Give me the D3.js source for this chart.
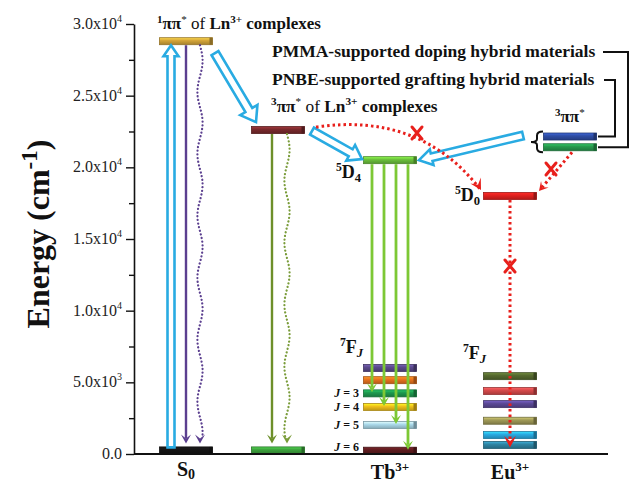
<!DOCTYPE html>
<html><head><meta charset="utf-8">
<script src="https://cdn.jsdelivr.net/npm/d3@7"></script>
<style>
body{margin:0;background:#fff}
svg{display:block}
text{font-family:"Liberation Serif","Times New Roman",serif;fill:#111}
</style>
</head><body>
<svg id="c" width="631" height="482"></svg>
<script>
// ---------------- data ----------------
const yTicks = [0, 5000, 10000, 15000, 20000, 25000, 30000];
const tickMantissa = ["0.0", "5.0", "1.0", "1.5", "2.0", "2.5", "3.0"];
const tickExponent = ["", "3", "4", "4", "4", "4", "4"];
const columns = ["S0", "Ln", "Tb", "Eu", "Film"];
const columnLabels = ["S", "", "Tb", "Eu", ""];
const columnLabelSup = ["", "", "3+", "3+", ""];
const columnLabelSub = ["0", "", "", "", ""];

const mainNames    = ["S0", "S1", "T1", "LnGround", "5D4", "5D0", "FilmT1a", "FilmT1b"];
const mainCols     = ["S0", "S0", "Ln", "Ln", "Tb", "Eu", "Film", "Film"];
const mainEnergies = [250, 28800, 22600, 250, 20500, 18000, 22150, 21400];
const mainColors   = ["#151515", "#d4a53a", "#7a2a2d", "#3da23d", "#6cc13c", "#e2211f", "#2f4ea6", "#27994d"];

const tbEnergies = [6000, 5150, 4230, 3280, 2020, 230];
const tbColors   = ["#5b4a8c", "#e8731f", "#1e9a4f", "#f1c11b", "#abd9ea", "#5e1c1f"];
const tbJLabels  = ["", "", "3", "4", "5", "6"];
const tbEmissionTargets = [4230, 3280, 2020, 230];

const euEnergies = [5430, 4390, 3480, 2320, 1320, 630];
const euColors   = ["#56692f", "#d64a4b", "#5c4a97", "#a09a57", "#29abe2", "#2f85a4"];

// ---------------- setup ----------------
const svg = d3.select("#c");
const defs = svg.append("defs");
const y = d3.scaleLinear().domain([0, 30000]).range([454, 24]);
const x = d3.scaleOrdinal().domain(columns).range([186, 278, 390, 510, 570]);
const barW = 53, barH = 7;
const BLUE = "#29abe2", RED = "#e8201c", TBGREEN = "#7dc835";

let gid = 0;
function grad(color) {
  const id = "g" + (gid++);
  const c = d3.color(color);
  const g = defs.append("linearGradient").attr("id", id).attr("x1", 0).attr("y1", 0).attr("x2", 0).attr("y2", 1);
  g.append("stop").attr("offset", "0%").attr("stop-color", c.brighter(0.8));
  g.append("stop").attr("offset", "40%").attr("stop-color", c);
  g.append("stop").attr("offset", "100%").attr("stop-color", c.darker(0.7));
  return "url(#" + id + ")";
}
const gBars = svg.append("g");
function bar(cx, energy, color) {
  const yc = y(energy);
  gBars.append("rect").attr("x", cx - barW / 2).attr("y", yc - barH / 2)
    .attr("width", barW).attr("height", barH)
    .attr("fill", grad(color)).attr("stroke", d3.color(color).darker(1)).attr("stroke-width", 0.8);
  gBars.append("rect").attr("x", cx + barW / 2 - 3).attr("y", yc - barH / 2)
    .attr("width", 3).attr("height", barH).attr("fill", d3.color(color).darker(1.2));
}

// ---------------- axis ----------------
const axis = d3.axisLeft(y).tickValues(yTicks).tickSize(8).tickSizeOuter(0).tickFormat(() => "");
const gAx = svg.append("g").attr("transform", "translate(134,0)").call(axis);
gAx.select(".domain").attr("stroke", "#111").attr("stroke-width", 1.6);
gAx.selectAll(".tick line").attr("stroke", "#111").attr("stroke-width", 1.4);
const minorTicks = d3.range(2500, 30000, 5000);
svg.append("g").attr("transform", "translate(134,0)")
  .call(d3.axisLeft(y).tickValues(minorTicks).tickSize(5).tickSizeOuter(0).tickFormat(() => ""))
  .call(g => { g.select(".domain").remove(); g.selectAll(".tick line").attr("stroke", "#111").attr("stroke-width", 1.4); });
gAx.selectAll(".tick text").remove();
yTicks.forEach((v, i) => {
  const t = svg.append("text").attr("x", 122).attr("y", y(v) + 5).attr("text-anchor", "end")
    .style("font-size", "16px").style("fill", "#222");
  if (tickExponent[i]) {
    t.append("tspan").text(tickMantissa[i] + "x10");
    t.append("tspan").attr("dy", -7).style("font-size", "10px").text(tickExponent[i]);
  } else {
    t.text(tickMantissa[i]);
  }
});
svg.append("line").attr("x1", 134).attr("x2", 608).attr("y1", y(0)).attr("y2", y(0))
  .attr("stroke", "#111").attr("stroke-width", 2);

// y label
const yl = svg.append("text").attr("transform", "translate(49,234) rotate(-90)")
  .attr("text-anchor", "middle").style("font-size", "32px").style("font-weight", "bold");
yl.append("tspan").text("Energy (cm");
yl.append("tspan").attr("dy", -12).style("font-size", "23px").text("-1");
yl.append("tspan").attr("dy", 12).text(")");

// ---------------- helpers ----------------
function arrowHead(g, x2, y2, ang, color, L = 9, W = 5) {
  const p = d3.path();
  p.moveTo(0, 0); p.lineTo(-L, -W); p.lineTo(-L * 0.55, 0); p.lineTo(-L, W); p.closePath();
  g.append("path").attr("d", p.toString()).attr("fill", color)
    .attr("transform", `translate(${x2},${y2}) rotate(${ang * 180 / Math.PI})`);
}
function straightArrow(x1, y1, x2, y2, color, width, dash) {
  const g = svg.append("g");
  const ang = Math.atan2(y2 - y1, x2 - x1);
  g.append("line").attr("x1", x1).attr("y1", y1)
    .attr("x2", x2 - Math.cos(ang) * 5).attr("y2", y2 - Math.sin(ang) * 5)
    .attr("stroke", color).attr("stroke-width", width).attr("stroke-dasharray", dash || null);
  arrowHead(g, x2, y2, ang, color);
}
function wavyArrow(x0, y1, y2, color) {
  const g = svg.append("g");
  const pts = d3.range(y1, y2 - 6, 1).map(yy => [x0 + 2.6 * Math.sin((yy - y1) / 62 * 2 * Math.PI), yy]);
  g.append("path").attr("d", d3.line()(pts)).attr("fill", "none").attr("stroke", color)
    .attr("stroke-width", 2.2).attr("stroke-dasharray", "0.1,3.6").attr("stroke-linecap", "round");
  arrowHead(g, x0, y2, Math.PI / 2, color);
}
function hollowArrow(x1, y1, x2, y2, s, h, L) {
  const dx = x2 - x1, dy = y2 - y1, len = Math.hypot(dx, dy);
  const ux = dx / len, uy = dy / len, nx = -uy, ny = ux;
  const bx = x2 - ux * L, by = y2 - uy * L;
  const pts = [
    [x1 + nx * s, y1 + ny * s], [bx + nx * s, by + ny * s], [bx + nx * h, by + ny * h], [x2, y2],
    [bx - nx * h, by - ny * h], [bx - nx * s, by - ny * s], [x1 - nx * s, y1 - ny * s]
  ];
  svg.append("path").attr("d", d3.line()(pts) + "Z").attr("fill", "#fff")
    .attr("stroke", BLUE).attr("stroke-width", 2.6).attr("stroke-linejoin", "miter");
}
function xMark(cx, cy) {
  svg.append("path").attr("d", `M${cx - 5},${cy - 6}L${cx + 5},${cy + 6}M${cx + 5},${cy - 6}L${cx - 5},${cy + 6}`)
    .attr("stroke", RED).attr("stroke-width", 3).attr("stroke-linecap", "round");
}
const E = n => mainEnergies[mainNames.indexOf(n)];
const C = n => x(mainCols[mainNames.indexOf(n)]);

// ---------------- arrows ----------------
hollowArrow(C("S0") - 15, y(E("S0")) - 3, C("S0") - 15, y(E("S1")) + 4, 3.5, 7.5, 11);
straightArrow(C("S0"), y(E("S1")) + 4, C("S0"), y(E("S0")) - 7, "#5b3f8f", 2.4);
wavyArrow(C("S0") + 14, y(E("S1")) + 4, y(E("S0")) - 7, "#5b3f8f");
straightArrow(C("T1") - 6, y(E("T1")) + 4, C("T1") - 6, y(E("LnGround")) - 7, "#6d8f2a", 2.4);
wavyArrow(C("T1") + 9, y(E("T1")) + 4, y(E("LnGround")) - 7, "#7a9c3a");
hollowArrow(C("S1") + 29, y(E("S1")) + 12, C("T1") - 22, y(E("T1")) - 8, 4, 10, 14);
hollowArrow(C("T1") + 34, y(E("T1")) + 1, C("5D4") - 28, y(E("5D4")) - 1, 4, 9, 13);
hollowArrow(523, y(E("FilmT1a")) - 1, C("5D4") + 29, y(E("5D4")), 3.8, 8, 13);

const tbX = d3.scalePoint().domain(d3.range(tbEmissionTargets.length)).range([x("Tb") - 18, x("Tb") + 18]);
tbEmissionTargets.forEach((e, i) => {
  straightArrow(tbX(i), y(E("5D4")) + 4, tbX(i), y(e) - 1, TBGREEN, 2.8);
});

const curve = d3.path();
const cs = [C("T1") + 38, y(E("T1")) - 3], ce = [C("5D0") - 30, y(E("5D0")) - 7];
curve.moveTo(cs[0], cs[1]); curve.quadraticCurveTo(420, 112, ce[0], ce[1]);
svg.append("path").attr("d", curve.toString()).attr("fill", "none").attr("stroke", RED)
  .attr("stroke-width", 3).attr("stroke-dasharray", "2.5,3");
arrowHead(svg, ce[0] + 1, ce[1] + 1, Math.atan2(ce[1] - 145, ce[0] - 455), RED, 11, 6);
xMark(417, 133);
straightArrow(C("FilmT1b") + 2, y(E("FilmT1b")) + 5, C("5D0") + 29, y(E("5D0")) - 5, RED, 3, "2.5,3");
xMark(551, 169);
straightArrow(C("5D0"), y(E("5D0")) + 4, C("5D0"), y(euEnergies[euEnergies.length - 1]) + 2, RED, 3, "2.5,3");
xMark(C("5D0"), 266);

// ---------------- bars ----------------
mainNames.forEach((n, i) => bar(x(mainCols[i]), mainEnergies[i], mainColors[i]));
tbEnergies.forEach((e, i) => bar(x("Tb"), e, tbColors[i]));
euEnergies.forEach((e, i) => bar(x("Eu"), e, euColors[i]));
arrowHead(svg, C("5D0"), y(euEnergies[euEnergies.length - 1]) + 2, Math.PI / 2, RED, 11, 6);

const braceTop = y(E("FilmT1a")) - 5, braceBot = y(E("FilmT1b")) + 5, braceMid = (braceTop + braceBot) / 2;
svg.append("path").attr("d",
  `M543,${braceTop} Q537,${braceTop} 537,${braceTop + 4} L537,${braceMid - 3} Q537,${braceMid} 531,${braceMid} Q537,${braceMid} 537,${braceMid + 3} L537,${braceBot - 4} Q537,${braceBot} 543,${braceBot}`)
  .attr("fill", "none").attr("stroke", "#111").attr("stroke-width", 2);
svg.append("path").attr("d", `M603,52 H628 V${y(E("FilmT1b"))} H598`).attr("fill", "none").attr("stroke", "#111").attr("stroke-width", 2);
svg.append("path").attr("d", `M604,80 H615 V${y(E("FilmT1a"))} H598`).attr("fill", "none").attr("stroke", "#111").attr("stroke-width", 2);

// ---------------- texts ----------------
function label(xx, yy, size, parts, anchor) {
  const t = svg.append("text").attr("x", xx).attr("y", yy).style("font-size", size + "px")
    .style("font-weight", "bold").attr("text-anchor", anchor || "start");
  let offset = 0;
  parts.forEach(p => {
    const s = t.append("tspan").text(p.t);
    let target = 0;
    if (p.sup) { s.style("font-size", (size * 0.65) + "px"); target = -size * 0.38; }
    if (p.sub) { s.style("font-size", (size * 0.7) + "px"); target = size * (p.subDrop != null ? p.subDrop : 0.3); }
    if (target !== offset) { s.attr("dy", target - offset); offset = target; }
    if (p.normal) s.style("font-weight", "normal");
    if (p.italic) s.style("font-style", "italic");
  });
  return t;
}
const pp = (lead) => [{ t: lead, sup: 1 }, { t: "ππ" }, { t: "*", sup: 1, normal: 1 }, { t: " of ", normal: 1 }, { t: "Ln" }, { t: "3+", sup: 1 }, { t: " complexes" }];
label(157, 29, 17, pp("1"));
label(271, 112, 17.3, pp("3"));
label(272, 57, 17.5, [{ t: "PMMA-supported doping hybrid materials" }]);
label(272, 85, 17.5, [{ t: "PNBE-supported grafting hybrid materials" }]);
label(555, 122, 17, [{ t: "3", sup: 1 }, { t: "ππ" }, { t: "*", sup: 1, normal: 1 }]);
label(336, 178, 18, [{ t: "5", sup: 1 }, { t: "D" }, { t: "4", sub: 1, subDrop: 0.22 }]);
label(455, 201, 18, [{ t: "5", sup: 1 }, { t: "D" }, { t: "0", sub: 1, subDrop: 0.22 }]);
label(340, 353, 18, [{ t: "7", sup: 1 }, { t: "F" }, { t: "J", sub: 1, italic: 1, subDrop: 0.22 }]);
label(463, 359, 18, [{ t: "7", sup: 1 }, { t: "F" }, { t: "J", sub: 1, italic: 1, subDrop: 0.22 }]);
tbEnergies.forEach((e, i) => {
  if (!tbJLabels[i]) return;
  label(359, Math.min(y(e) + 4, 451), 12, [{ t: "J", italic: 1 }, { t: " = " + tbJLabels[i] }], "end");
});
columns.forEach((c, i) => {
  if (!columnLabels[i]) return;
  const parts = [{ t: columnLabels[i] }];
  if (columnLabelSub[i]) parts.push({ t: columnLabelSub[i], sub: 1, subDrop: 0.15 });
  if (columnLabelSup[i]) parts.push({ t: columnLabelSup[i], sup: 1 });
  label(x(c), c === "S0" ? 476 : 479, 20, parts, "middle");
});
</script>
</body></html>
